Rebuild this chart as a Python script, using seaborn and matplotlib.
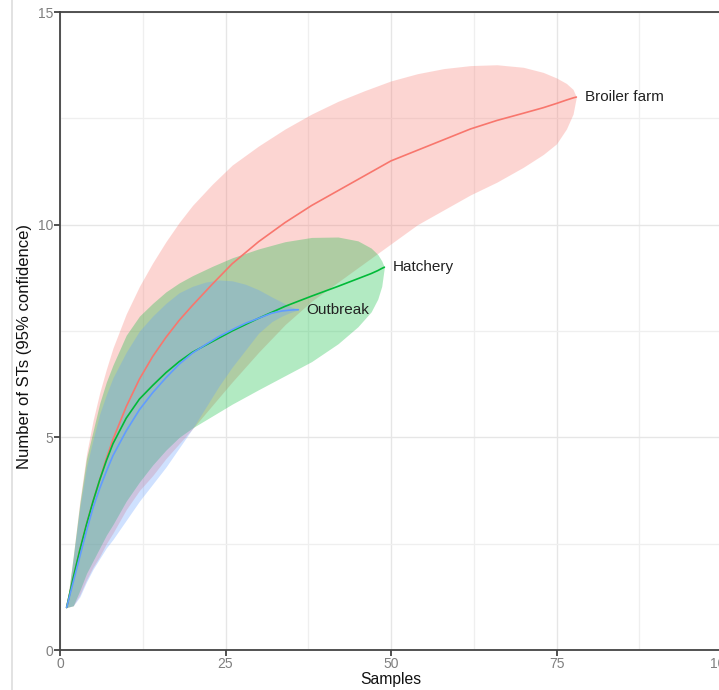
import pandas as pd
import matplotlib
matplotlib.use('Agg')
import matplotlib.pyplot as plt
import seaborn as sns
from matplotlib.lines import Line2D

# Broiler farm
broiler_x = [1, 1.5, 2, 3, 4, 5, 6, 7, 8, 10, 12, 14, 16, 18, 20, 23, 26, 30, 34, 38, 42, 46,
             50, 54, 58, 62, 66, 70, 73, 75, 76.5, 77.5, 78]
broiler_est = [1, 1.35, 1.7, 2.35, 2.95, 3.5, 4.0, 4.5, 4.95, 5.72, 6.37, 6.9, 7.35, 7.75, 8.1,
               8.6, 9.08, 9.6, 10.05, 10.45, 10.8, 11.15, 11.5, 11.75, 12.0, 12.25, 12.45, 12.62,
               12.75, 12.85, 12.93, 12.98, 13.0]
broiler_upper = [1, 1.6, 2.2, 3.5, 4.6, 5.4, 6.05, 6.6, 7.1, 7.9, 8.55, 9.1, 9.6, 10.05, 10.45,
                 10.95, 11.4, 11.85, 12.25, 12.6, 12.9, 13.15, 13.38, 13.55, 13.67, 13.74, 13.76,
                 13.7, 13.58, 13.45, 13.32, 13.18, 13.0]
broiler_lower = [1, 1.02, 1.04, 1.3, 1.65, 1.95, 2.2, 2.5, 2.75, 3.3, 3.75, 4.1, 4.5, 4.85, 5.2,
                 5.75, 6.3, 7.0, 7.65, 8.2, 8.65, 9.1, 9.55, 10.0, 10.35, 10.7, 11.0, 11.35,
                 11.65, 11.9, 12.25, 12.6, 13.0]

# Hatchery
hatchery_x = [1, 1.5, 2, 3, 4, 5, 6, 7, 8, 10, 12, 14, 16, 18, 20, 23, 26, 30, 34, 38, 42, 45,
              47, 48, 48.6, 49]
hatchery_est = [1, 1.35, 1.7, 2.35, 2.95, 3.5, 4.0, 4.45, 4.85, 5.45, 5.9, 6.22, 6.52, 6.78, 7.0,
                7.25, 7.5, 7.8, 8.08, 8.32, 8.55, 8.73, 8.85, 8.92, 8.97, 9.0]
hatchery_upper = [1, 1.6, 2.2, 3.45, 4.5, 5.15, 5.8, 6.3, 6.7, 7.4, 7.85, 8.15, 8.42, 8.63, 8.8,
                  9.02, 9.22, 9.43, 9.6, 9.7, 9.71, 9.62, 9.45, 9.3, 9.15, 9.0]
hatchery_lower = [1, 1.02, 1.04, 1.4, 1.8, 2.1, 2.4, 2.7, 2.95, 3.5, 3.95, 4.35, 4.7, 5.0, 5.22,
                  5.5, 5.78, 6.12, 6.45, 6.78, 7.2, 7.6, 7.95, 8.25, 8.55, 9.0]

# Outbreak
outbreak_x = [1, 1.5, 2, 3, 4, 5, 6, 7, 8, 10, 12, 14, 16, 18, 20, 22, 24, 26, 28, 30, 32, 33.5,
              34.7, 35.5, 36]
outbreak_est = [1, 1.3, 1.6, 2.2, 2.8, 3.35, 3.8, 4.2, 4.57, 5.15, 5.65, 6.05, 6.4, 6.72, 6.98,
                7.18, 7.37, 7.53, 7.68, 7.8, 7.92, 7.97, 7.99, 8.0, 8.0]
outbreak_upper = [1, 1.55, 2.15, 3.35, 4.3, 4.95, 5.55, 6.0, 6.4, 7.0, 7.5, 7.85, 8.15, 8.4,
                  8.55, 8.65, 8.7, 8.68, 8.6, 8.47, 8.3, 8.18, 8.08, 8.03, 8.0]
outbreak_lower = [1, 1.02, 1.04, 1.25, 1.6, 1.9, 2.15, 2.4, 2.6, 3.05, 3.5, 3.9, 4.3, 4.75, 5.2,
                  5.7, 6.2, 6.65, 7.05, 7.45, 7.72, 7.85, 7.93, 7.97, 8.0]

sites = ['Broiler farm', 'Hatchery', 'Outbreak']
colors = {'Broiler farm': '#F8766D', 'Hatchery': '#00BA38', 'Outbreak': '#619CFF'}

series = {
    'Broiler farm': (broiler_x, broiler_est, broiler_lower, broiler_upper),
    'Hatchery': (hatchery_x, hatchery_est, hatchery_lower, hatchery_upper),
    'Outbreak': (outbreak_x, outbreak_est, outbreak_lower, outbreak_upper),
}

rows = []
for site in sites:
    xs, est, lo, hi = series[site]
    for x, y, l, h in zip(xs, est, lo, hi):
        rows.append({'site': site, 'samples': x, 'sts': y, 'lower': l, 'upper': h})
df = pd.DataFrame(rows)

sns.set_style('white')
plt.rcParams['font.family'] = ['Liberation Sans', 'DejaVu Sans']

fig = plt.figure(figsize=(7.19, 6.90), dpi=100)
ax = fig.add_axes([60 / 719, 40 / 690, 662 / 719, 638 / 690])

# ribbons (95% confidence)
for site in sites:
    d = df[df['site'] == site]
    ax.fill_between(d['samples'], d['lower'], d['upper'], color=colors[site],
                    alpha=0.3, linewidth=0, zorder=2)

sns.lineplot(data=df, x='samples', y='sts', hue='site', palette=colors,
             linewidth=1.2, legend=False, sort=False, ax=ax, zorder=3)

# end labels
for site in sites:
    d = df[df['site'] == site]
    ax.annotate(site, xy=(d['samples'].iloc[-1], d['sts'].iloc[-1]),
                xytext=(6, 0), textcoords='offset points',
                ha='left', va='center', fontsize=11, color='#222222')

ax.set_xlim(0, 100)
ax.set_ylim(0, 15)
ax.set_xticks([0, 25, 50, 75, 100])
ax.set_yticks([0, 5, 10, 15])
ax.set_xticks([12.5, 37.5, 62.5, 87.5], minor=True)
ax.set_yticks([2.5, 7.5, 12.5], minor=True)
ax.grid(which='major', color='#e6e6e6', linewidth=1.0, zorder=0)
ax.grid(which='minor', color='#efefef', linewidth=0.9, zorder=0)
ax.set_axisbelow(True)

ax.tick_params(which='major', direction='out', length=4, width=1.2, color='#333333',
               labelcolor='#7f7f7f', labelsize=10, pad=1, left=True, bottom=True)
ax.tick_params(which='minor', length=0)

for side in ['left', 'bottom', 'top']:
    ax.spines[side].set_color('#444444')
    ax.spines[side].set_linewidth(1.3)
ax.spines['right'].set_visible(False)

ax.set_xlabel('Samples', fontsize=11.3, color='#111111', labelpad=1)
ax.set_ylabel('Number of STs (95% confidence)', fontsize=12, color='#111111')
ax.yaxis.set_label_coords(-0.042, 0.476)

# thin frame line at the left edge of the picture
fig.add_artist(Line2D([12 / 719, 12 / 719], [0, 1], color='#dddddd', linewidth=1.2,
                      transform=fig.transFigure))

fig.savefig('out.png', dpi=100)
